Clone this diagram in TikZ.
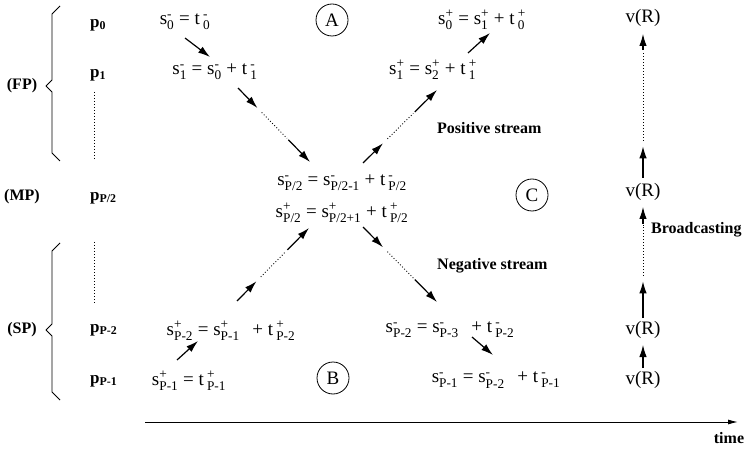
\documentclass[tikz,border=0pt]{standalone}
\usepackage{fontspec}
\setmainfont{Liberation Serif}
\usepackage{amsmath}
\usetikzlibrary{arrows.meta,calc}
\newcommand\vr[3]{#1$^{\text{#2}}_{\text{#3}}$}
\newcommand\vt[3]{#1\,$^{\text{#2}}_{\text{#3}}$}
\newcommand\pl[1]{\textbf{p}$_{\textbf{#1}}$}
\newcommand\chain[6]{%
  \draw[arr] (#1) -- ($(#1)!#3!(#2)$);
  \draw[dots] ($(#1)!#4!(#2)$) -- ($(#1)!#5!(#2)$);
  \draw[arr] ($(#1)!#6!(#2)$) -- (#2);}
\tikzset{
  fml/.style={font=\fontsize{19}{22}\selectfont, inner sep=1pt},
  lbl/.style={font=\fontsize{16}{19}\selectfont\bfseries, inner sep=1pt},
  plab/.style={font=\fontsize{17}{20}\selectfont, inner sep=1pt, anchor=west},
  circ/.style={draw, circle, line width=0.8pt, minimum size=32pt, inner sep=0pt, font=\fontsize{19}{22}\selectfont},
  arr/.style={line width=1.2pt, -{Latex[length=12pt,width=7.5pt]}},
  dots/.style={line width=0.9pt, dash pattern=on 0.9pt off 2.1pt},
  brace/.style={line width=0.9pt, line join=round},
}
\begin{document}
\begin{tikzpicture}[x=1pt,y=-1pt]
\path[use as bounding box, fill=white] (0,0) rectangle (747,449);

% left labels
\node[lbl] (FP) at (22,86) {(FP)};
\node[lbl] (MP) at (22,197) {(MP)};
\node[lbl] (SP) at (22,330) {(SP)};
\draw[brace] (60,6) -- (52,14) -- (52,80) -- (46,86) -- (52,92) -- (52,153) -- (60,161);
\draw[brace] (60,243) -- (52,251) -- (52,324) -- (46,330) -- (52,336) -- (52,392) -- (60,400);

\node[plab] (p0) at (89,25) {\pl{0}};
\node[plab] (p1) at (89,75) {\pl{1}};
\node[plab] (pm) at (89,198) {\pl{P/2}};
\node[plab] (pp2) at (89,330) {\pl{P-2}};
\node[plab] (pp1) at (89,381) {\pl{P-1}};
\coordinate (d1a) at (94,92); \coordinate (d1b) at (94,160);
\coordinate (d2a) at (94,242); \coordinate (d2b) at (94,304);
\draw[dots, line width=0.7pt] (d1a) -- (d1b);
\draw[dots, line width=0.7pt] (d2a) -- (d2b);

% formulas
\node[fml] (F1) at (185,22) {\vr{s}{-}{0} = \vt{t}{-}{0}};
\node[fml] (F2) at (215,72) {\vr{s}{-}{1} = \vr{s}{-}{0} + \vt{t}{-}{1}};
\node[fml] (F3) at (482,20) {\vr{s}{+}{0} = \vr{s}{+}{1} + \vt{t}{+}{0}};
\node[fml] (F4) at (433,70) {\vr{s}{+}{1} = \vr{s}{+}{2} + \vt{t}{+}{1}};
\node[fml] (F5) at (342,183) {\vr{s}{-}{P/2} = \vr{s}{-}{P/2-1} + \vt{t}{-}{P/2}};
\node[fml] (F6) at (342,213) {\vr{s}{+}{P/2} = \vr{s}{+}{P/2+1} + \vt{t}{+}{P/2}};
\node[fml] (F7) at (231,331) {\vr{s}{+}{P-2} = \vr{s}{+}{P-1} \, + \vt{t}{+}{P-2}};
\node[fml] (F8) at (189,381) {\vr{s}{+}{P-1} = \vt{t}{+}{P-1}};
\node[fml] (F9) at (450,330) {\vr{s}{-}{P-2} = \vr{s}{-}{P-3} \, + \vt{t}{-}{P-2}};
\node[fml] (F10) at (496,380) {\vr{s}{-}{P-1} = \vr{s}{-}{P-2} \, + \vt{t}{-}{P-1}};

\node[circ] (A) at (332,20) {A};
\node[circ] (B) at (333,378) {B};
\node[circ] (C) at (532,195) {C};

\node[lbl, anchor=west] (pos) at (436,128) {Positive stream};
\node[lbl, anchor=west] (neg) at (436,266) {Negative stream};
\node[lbl, anchor=west] (bro) at (650,230) {Broadcasting};
\node[lbl] (time) at (729,438) {time};

% right column
\node[fml] (V1) at (643,18) {v(R)};
\node[fml] (V2) at (643,192) {v(R)};
\node[fml] (V3) at (643,330) {v(R)};
\node[fml] (V4) at (643,380) {v(R)};

% connector end points
\coordinate (a1) at ($(F1)+(0,16)$);   \coordinate (b1) at ($(F2)+(-5,-15)$);
\coordinate (a2) at ($(F2)+(23,16)$);  \coordinate (b2) at ($(F5)+(-32,-21)$);
\coordinate (a3) at ($(F5)+(21,-20)$); \coordinate (b3) at ($(F4)+(4,20)$);
\coordinate (a4) at ($(F4)+(35,-17)$); \coordinate (b4) at ($(F3)+(8,13)$);
\coordinate (a5) at ($(F8)+(-12,-21)$); \coordinate (b5) at ($(F7)+(-33,10)$);
\coordinate (a6) at ($(F7)+(6,-30)$);  \coordinate (b6) at ($(F6)+(-33,15)$);
\coordinate (a7) at ($(F6)+(21,14)$);  \coordinate (b7) at ($(F9)+(-13,-28)$);
\coordinate (a8) at ($(F9)+(22,7)$);   \coordinate (b8) at ($(F10)+(-3,-25)$);
\coordinate (a9) at ($(V4)+(0,-12)$);  \coordinate (b9) at ($(V3)+(0,15)$);
\coordinate (a10) at ($(V3)+(0,-12)$); \coordinate (b10) at ($(V2)+(0,15)$);
\coordinate (a11) at ($(V2)+(0,-14)$); \coordinate (b11) at ($(V1)+(0,16)$);

\draw[arr] (a1) -- (b1);
\chain{a2}{b2}{0.27}{0.33}{0.68}{0.70}
\chain{a3}{b3}{0.27}{0.33}{0.68}{0.70}
\draw[arr] (a4) -- (b4);
\draw[arr] (a5) -- (b5);
\chain{a6}{b6}{0.27}{0.33}{0.68}{0.70}
\chain{a7}{b7}{0.27}{0.33}{0.68}{0.70}
\draw[arr] (a8) -- (b8);
\draw[arr] (a9) -- (b9);
\chain{a10}{b10}{0.33}{0.38}{0.84}{0.85}
\chain{a11}{b11}{0.22}{0.26}{0.88}{0.89}

% time axis
\coordinate (t0) at (145,422);
\coordinate (t1) at (738,422);
\draw[line width=1pt, -{Latex[length=10pt,width=5pt]}] (t0) -- (t1);
\end{tikzpicture}
\end{document}
